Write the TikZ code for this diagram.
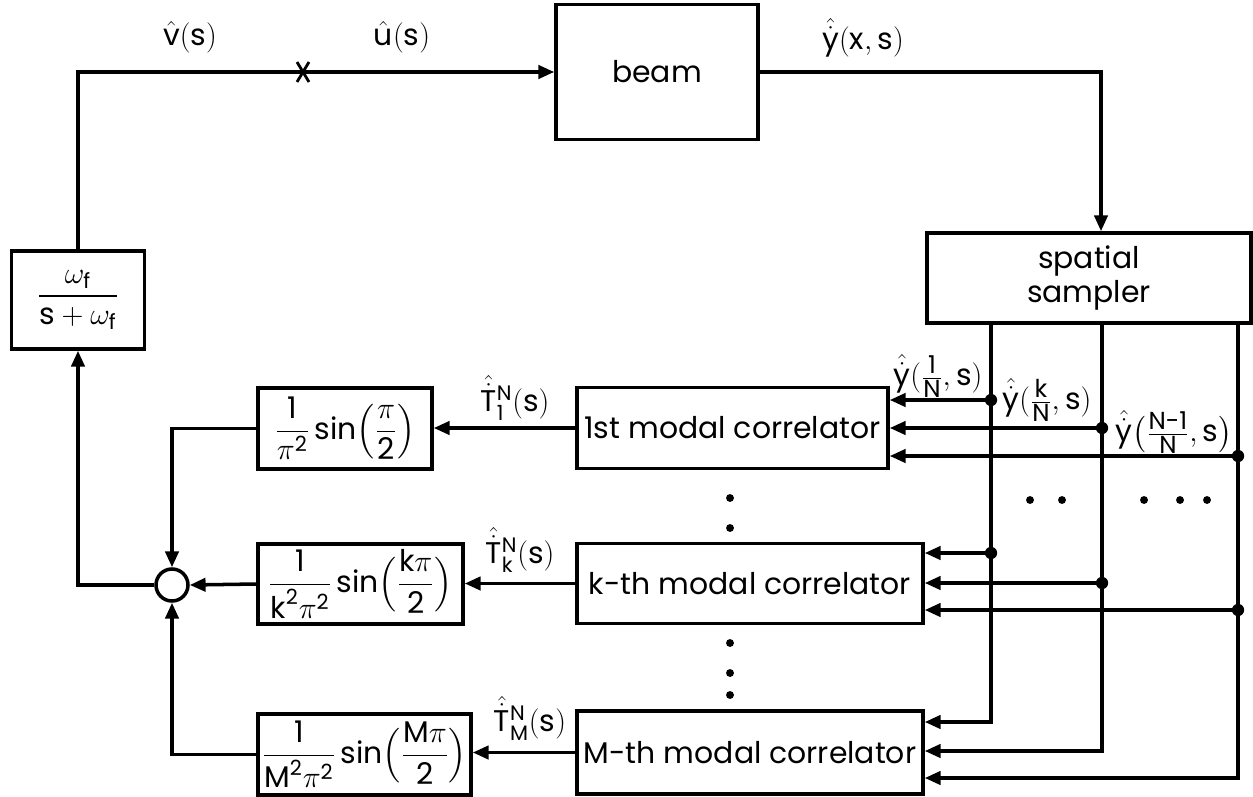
\documentclass[tikz,border=0pt]{standalone}
\usepackage{amsmath}
\usepackage{fontspec}
\setmainfont{Poppins}
\usetikzlibrary{arrows.meta,calc}
\newcommand\tx[1]{\text{#1}}
\newcommand\yfr[2]{\genfrac{}{}{}{1}{\text{\fontsize{14}{14}\selectfont #1}}{\text{\fontsize{14}{14}\selectfont #2}}}
\begin{document}
\begin{tikzpicture}[x=0.02cm,y=-0.02cm,
  line width=2pt,
  every node/.style={font=\fontsize{17}{20}\selectfont},
  blk/.style={draw,line width=2pt,inner sep=0pt,align=center},
  arr/.style={-{Triangle[length=9pt,width=7.5pt]}},
  sdot/.style={fill,circle,inner sep=0pt,minimum size=4.5pt},
  lbl/.style={inner sep=0pt}]
\useasboundingbox (0,0) rectangle (1253,797);

% blocks
\node[blk,minimum width=4.04cm,minimum height=2.70cm] (beam) at (657,72) {beam};
\node[blk,minimum width=6.48cm,minimum height=1.80cm] (sampler) at (1089,278) {spatial\\[-1pt]sampler};
\node[blk,minimum width=2.66cm,minimum height=1.96cm] (filter) at (78,300)
  {$\dfrac{\omega_{\tx{f}}}{\tx{s}+\omega_{\tx{f}}}$};
\node[blk,minimum width=3.48cm,minimum height=1.62cm] (g1) at (345,428.5)
  {$\dfrac{\tx{1}}{\pi^{\tx{2}}}\,\tx{sin}\Bigl(\dfrac{\pi}{\tx{2}}\Bigr)$};
\node[blk,minimum width=4.10cm,minimum height=1.60cm] (gk) at (360.5,584)
  {$\dfrac{\tx{1}}{\tx{k}^{\tx{2}}\pi^{\tx{2}}}\,\tx{sin}\Bigl(\dfrac{\tx{k}\pi}{\tx{2}}\Bigr)$};
\node[blk,minimum width=4.26cm,minimum height=1.62cm] (gM) at (364.5,754.5)
  {$\dfrac{\tx{1}}{\tx{M}^{\tx{2}}\pi^{\tx{2}}}\,\tx{sin}\Bigl(\dfrac{\tx{M}\pi}{\tx{2}}\Bigr)$};
\node[blk,minimum width=6.22cm,minimum height=1.62cm] (c1) at (732.5,428) {1st modal correlator};
\node[blk,minimum width=6.92cm,minimum height=1.60cm] (ck) at (750,583.5) {k-th modal correlator};
\node[blk,minimum width=6.92cm,minimum height=1.66cm] (cM) at (750,752.5) {M-th modal correlator};
\node[draw,circle,minimum size=0.64cm,inner sep=0pt] (sum) at (172,585) {};

% forward path
\draw[arr] (filter.north) |- (beam.west);
\draw[line width=1.6pt] (297,62) -- (309,82) (309,62) -- (297,82);
\coordinate (sx) at (1101,0);
\draw[arr] (beam.east) -| (sampler.north -| sx);

% junctions
\foreach \n/\x/\y in {a1/991/400,a2/1102/428,a3/1238/456,
                      k1/991/553,k2/1102/583,k3/1238/610,
                      m1/991/722,m2/1102/751,m3/1238/778}
  \coordinate (j\n) at (\x,\y);

% bus lines into M-th correlator
\draw[arr] (sampler.south -| jm1) -- (jm1) -- (jm1 -| cM.east);
\draw[arr] (sampler.south -| jm2) -- (jm2) -- (jm2 -| cM.east);
\draw[arr] (sampler.south -| jm3) -- (jm3) -- (jm3 -| cM.east);
% taps
\draw[arr] (ja1) -- (ja1 -| c1.east);
\draw[arr] (ja2) -- (ja2 -| c1.east);
\draw[arr] (ja3) -- (ja3 -| c1.east);
\draw[arr] (jk1) -- (jk1 -| ck.east);
\draw[arr] (jk2) -- (jk2 -| ck.east);
\draw[arr] (jk3) -- (jk3 -| ck.east);
\foreach \n in {a1,a2,a3,k1,k2,k3} \node[sdot,minimum size=7pt] at (j\n) {};

% correlator outputs
\draw[arr] (c1.west) -- (c1.west -| g1.east);
\draw[arr] (ck.west) -- (ck.west -| gk.east);
\draw[arr] (cM.west) -- (cM.west -| gM.east);

% into summing junction
\draw[arr] (g1.west) -| (sum.north);
\draw[arr] (gM.west) -| (sum.south);
\draw[arr] (gk.west) -- (sum.east);
\draw[arr] (sum.west) -| (filter.south);

% ellipsis dots
\foreach \y in {498,528,643,673,695} \node[sdot] at (730,\y) {};
\foreach \x in {1030,1062,1144,1180,1207} \node[sdot] at (\x,500) {};

% labels
\node[lbl] at (190,37) {$\hat{\tx{v}}(\tx{s})$};
\node[lbl] at (402,37) {$\hat{\tx{u}}(\tx{s})$};
\node[lbl] at (863,38) {$\hat{\dot{\tx{y}}}(\tx{x},\tx{s})$};
\node[lbl] at (938,376) {$\hat{\dot{\tx{y}}}(\yfr{1}{N},\tx{s})$};
\node[lbl] at (1047,400) {$\hat{\dot{\tx{y}}}(\yfr{k}{N},\tx{s})$};
\node[lbl] at (1174,432) {$\hat{\dot{\tx{y}}}\bigl(\yfr{N-1}{N},\tx{s}\bigr)$};
\node[lbl] at (515,398) {$\hat{\dot{\tx{T}}}{}_{\tx{1}}^{\tx{N}}(\tx{s})$};
\node[lbl] at (520,550) {$\hat{\dot{\tx{T}}}{}_{\tx{k}}^{\tx{N}}(\tx{s})$};
\node[lbl] at (530,718) {$\hat{\dot{\tx{T}}}{}_{\tx{M}}^{\tx{N}}(\tx{s})$};
\end{tikzpicture}
\end{document}
